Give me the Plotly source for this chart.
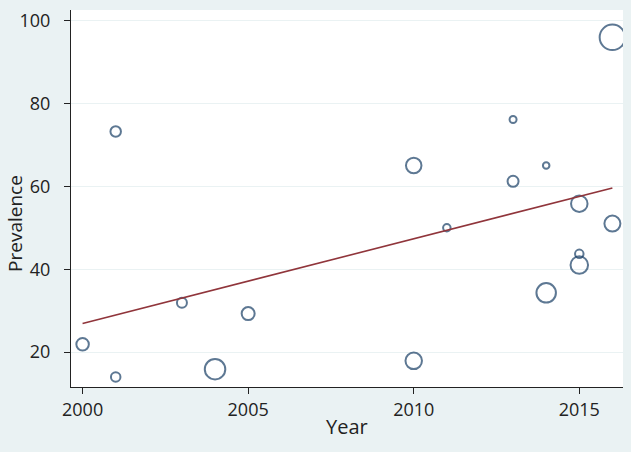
import plotly.graph_objects as go

# Study data (year, prevalence %, study weight shown as bubble size)
years = [2000, 2001, 2001, 2003, 2004, 2005, 2010, 2010, 2011, 2013, 2013, 2014, 2014, 2015, 2015, 2015, 2016, 2016]
prevalence = [21.9, 14.0, 73.2, 31.9, 15.9, 29.3, 65.0, 17.9, 50.0, 76.1, 61.2, 65.0, 34.3, 55.8, 43.7, 41.0, 95.9, 51.0]
weights = [12.5, 9.5, 10.5, 10, 20.5, 13, 15.5, 16.5, 7.5, 7, 11, 6.5, 19.5, 16.5, 8.5, 17.5, 25.5, 16]

# Fitted meta-regression line
fit_years = [2000, 2016]
fit_values = [26.9, 59.6]

x_ticks = [2000, 2005, 2010, 2015]
y_ticks = [20, 40, 60, 80, 100]

FONT = "Open Sans, sans-serif"
BG = "#EAF2F3"
NAVY = "#1A3F66"
MAROON = "#90353B"
TXT = "#222222"

fig = go.Figure()
fig.add_trace(go.Scatter(
    x=years, y=prevalence, mode="markers",
    marker=dict(size=weights, sizemode="diameter", sizeref=1,
                color="rgba(0,0,0,0)", line=dict(color=NAVY, width=2)),
    showlegend=False, hoverinfo="x+y",
))
fig.add_trace(go.Scatter(
    x=fit_years, y=fit_values, mode="lines",
    line=dict(color=MAROON, width=1.6), showlegend=False,
))

fig.update_layout(
    width=631, height=452,
    margin=dict(l=71, r=8, t=8, b=65),
    paper_bgcolor=BG, plot_bgcolor="white",
    font=dict(family=FONT, size=18, color=TXT),
    annotations=[
        dict(text="Year", x=0.5, y=-0.1055, xref="paper", yref="paper",
             xanchor="center", yanchor="middle", showarrow=False,
             font=dict(family=FONT, size=20, color=TXT)),
        dict(text="Prevalence", x=-0.1005, y=0.434, xref="paper", yref="paper",
             xanchor="center", yanchor="middle", showarrow=False, textangle=-90,
             font=dict(family=FONT, size=19, color=TXT)),
    ],
)
fig.update_xaxes(
    range=[1999.65, 2016.32], tickvals=x_ticks, ticktext=[str(v) for v in x_ticks],
    showgrid=False, zeroline=False, showline=True, linecolor=TXT, linewidth=1,
    ticks="outside", ticklen=6, tickcolor=TXT, tickwidth=1,
)
fig.update_yaxes(
    range=[11.6, 102.5], tickvals=y_ticks, ticktext=[str(v) for v in y_ticks],
    showgrid=True, gridcolor=BG, gridwidth=1, zeroline=False,
    showline=True, linecolor=TXT, linewidth=1,
    ticks="outside", ticklen=6, tickcolor=TXT, tickwidth=1,
    ticklabelstandoff=10,
)

fig.write_html("out.html", config={"displayModeBar": False},
               post_script="document.body.style.margin='0px';")
